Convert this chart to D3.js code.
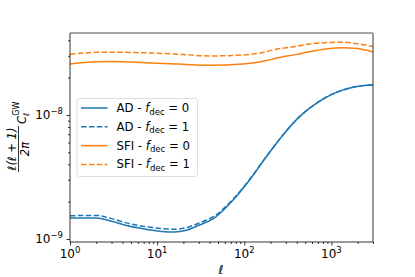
<!DOCTYPE html>
<html>
<head>
<meta charset="utf-8">
<script src="https://cdn.jsdelivr.net/npm/d3@7"></script>
<style>
  body { margin: 0; background: #fff; }
  text { font-family: "DejaVu Sans", sans-serif; }
</style>
</head>
<body>
<svg width="415" height="277"></svg>
<script>
'use strict';

// multipoles
var adEll = [1, 2, 3, 5, 8, 12, 16, 21, 30, 46, 74, 115, 179, 278, 431, 670, 1038, 1758, 3000];
var adDec0 = [1.48, 1.48, 1.39, 1.26, 1.19, 1.145, 1.14, 1.17, 1.29, 1.49, 2.05, 2.99, 4.6, 6.9, 9.7, 12.4, 14.8, 16.7, 17.5];
var adDec1 = [1.54, 1.55, 1.46, 1.32, 1.25, 1.21, 1.2, 1.23, 1.34, 1.54, 2.09, 3.02, 4.62, 6.9, 9.7, 12.4, 14.8, 16.7, 17.5];

var sfiEll = [1, 2, 3, 5, 10, 20, 40, 96, 160, 233, 400, 561, 900, 1300, 2000, 3000];
var sfiDec0 = [25.8, 26.9, 27.0, 26.7, 26.1, 25.6, 25.2, 25.8, 27.0, 28.7, 30.8, 32.4, 34.2, 34.9, 34.3, 32.2];
var sfiDec1 = [30.9, 32.0, 32.1, 31.9, 31.5, 30.7, 29.9, 30.5, 31.8, 33.9, 35.8, 37.4, 38.4, 38.6, 37.5, 35.6];
// values above are in units of 1e-9

var xTickVals = [1, 10, 100, 1000];
var xTickExp = ['0', '1', '2', '3'];
var yTickVals = [1e-9, 1e-8];
var yTickExp = ['\u22129', '\u22128'];

var svg = d3.select('svg');
var pLeft = 70, pRight = 373, pTop = 33, pBottom = 242;

var x = d3.scaleLog().domain([1, 3000]).range([pLeft, pRight]);
var y = d3.scaleLog().domain([0.946e-9, 4.58e-8]).range([pBottom, pTop]);

var blue = '#1f77b4', orange = '#ff7f0e';

var series = [
  { ell: adEll, vals: adDec0, color: blue, dash: null, name: 'AD', f: '0' },
  { ell: adEll, vals: adDec1, color: blue, dash: '5.5,2.4', name: 'AD', f: '1' },
  { ell: sfiEll, vals: sfiDec0, color: orange, dash: null, name: 'SFI', f: '0' },
  { ell: sfiEll, vals: sfiDec1, color: orange, dash: '5.5,2.4', name: 'SFI', f: '1' }
];

svg.append('defs').append('clipPath').attr('id', 'clip')
  .append('rect').attr('x', pLeft).attr('y', pTop)
  .attr('width', pRight - pLeft).attr('height', pBottom - pTop);

var line = d3.line()
  .x(function (d) { return x(d[0]); })
  .y(function (d) { return y(d[1] * 1e-9); })
  .curve(d3.curveMonotoneX);

svg.append('g').attr('clip-path', 'url(#clip)')
  .selectAll('path').data(series).enter().append('path')
  .attr('d', function (s) { return line(s.ell.map(function (l, i) { return [l, s.vals[i]]; })); })
  .attr('fill', 'none')
  .attr('stroke', function (s) { return s.color; })
  .attr('stroke-width', 1.5)
  .attr('stroke-dasharray', function (s) { return s.dash; });

// axes (ticks only, labels drawn by hand for superscripts)
var xMinor = [];
[1, 10, 100, 1000].forEach(function (p) {
  for (var k = 2; k <= 9; k++) { if (p * k <= 3000) xMinor.push(p * k); }
});
var yMinor = [];
[1e-9, 1e-8].forEach(function (p) {
  for (var k = 2; k <= 9; k++) { if (p * k <= 4.58e-8) yMinor.push(p * k); }
});

var xAxis = svg.append('g').attr('transform', 'translate(0,' + pBottom + ')');
xAxis.call(d3.axisBottom(x).tickValues(xTickVals).tickSize(3.5).tickFormat(''));
xAxis.append('g').call(d3.axisBottom(x).tickValues(xMinor).tickSize(2).tickFormat(''));
var yAxis = svg.append('g').attr('transform', 'translate(' + pLeft + ',0)');
yAxis.call(d3.axisLeft(y).tickValues(yTickVals).tickSize(3.5).tickFormat(''));
yAxis.append('g').call(d3.axisLeft(y).tickValues(yMinor).tickSize(2).tickFormat(''));
svg.selectAll('.domain').remove();
svg.selectAll('.tick line').attr('stroke', '#000').attr('stroke-width', 0.8);

// frame
svg.append('line').attr('x1', pLeft).attr('x2', pLeft).attr('y1', pTop).attr('y2', pBottom).attr('stroke', '#000').attr('stroke-width', 0.8);
svg.append('line').attr('x1', pRight).attr('x2', pRight).attr('y1', pTop).attr('y2', pBottom).attr('stroke', '#000').attr('stroke-width', 0.8);
svg.append('line').attr('x1', pLeft).attr('x2', pRight).attr('y1', pBottom).attr('y2', pBottom).attr('stroke', '#000').attr('stroke-width', 0.8);
svg.append('line').attr('x1', pLeft).attr('x2', pRight).attr('y1', pTop).attr('y2', pTop).attr('stroke', '#888').attr('stroke-width', 1.6);

// tick labels
xTickVals.forEach(function (v, i) {
  var t = svg.append('text').attr('x', x(v)).attr('y', 258).attr('text-anchor', 'middle').attr('font-size', 12);
  t.append('tspan').text('10');
  t.append('tspan').attr('dy', -5).attr('font-size', 8.5).text(xTickExp[i]);
});
yTickVals.forEach(function (v, i) {
  var t = svg.append('text').attr('x', 63).attr('y', y(v) + 4).attr('text-anchor', 'end').attr('font-size', 12);
  t.append('tspan').text('10');
  t.append('tspan').attr('dy', -5).attr('font-size', 8.5).text(yTickExp[i]);
});

// x label
svg.append('text').attr('x', 221).attr('y', 274).attr('text-anchor', 'middle')
  .attr('font-size', 12).attr('font-style', 'italic').text('\u2113');

// y label: l(l+1)/2pi C_l^GW
var yl = svg.append('g').attr('transform', 'translate(18.5,137) rotate(-90)');
yl.append('text').attr('x', -12).attr('y', -2.5).attr('text-anchor', 'middle')
  .attr('font-size', 11.5).attr('font-style', 'italic').text('\u2113(\u2113 + 1)');
yl.append('line').attr('x1', -35).attr('x2', 11).attr('y1', 0).attr('y2', 0)
  .attr('stroke', '#000').attr('stroke-width', 0.8);
yl.append('text').attr('x', -12).attr('y', 10.5).attr('text-anchor', 'middle')
  .attr('font-size', 11.5).attr('font-style', 'italic').text('2\u03c0');
var ct = yl.append('text').attr('x', 13).attr('y', 7.5).attr('font-size', 11.5);
ct.append('tspan').attr('font-style', 'italic').text('C');
ct.append('tspan').attr('dy', 3).attr('font-size', 8).attr('font-style', 'italic').text('\u2113');
ct.append('tspan').attr('dx', -3).attr('dy', -10).attr('font-size', 8).text('GW');

// legend
var lg = svg.append('g');
lg.append('rect').attr('x', 77).attr('y', 98.5).attr('width', 120.5).attr('height', 78)
  .attr('rx', 2.5).attr('fill', '#fff').attr('fill-opacity', 0.8)
  .attr('stroke', '#d6d6d6').attr('stroke-width', 0.8);
var rows = lg.selectAll('g.row').data(series).enter().append('g')
  .attr('transform', function (d, i) { return 'translate(0,' + (108 + i * 18.8) + ')'; });
rows.append('line').attr('x1', 81).attr('x2', 107.5).attr('y1', 0).attr('y2', 0)
  .attr('stroke', function (d) { return d.color; }).attr('stroke-width', 1.5)
  .attr('stroke-dasharray', function (d) { return d.dash; });
var lt = rows.append('text').attr('x', 116.5).attr('y', 4).attr('font-size', 11.7);
lt.append('tspan').text(function (d) { return d.name + ' - '; });
lt.append('tspan').attr('font-style', 'italic').text('f');
lt.append('tspan').attr('dy', 2.5).attr('font-size', 8.5).text('dec');
lt.append('tspan').attr('dy', -2.5).text(function (d) { return ' = ' + d.f; });
</script>
</body>
</html>
